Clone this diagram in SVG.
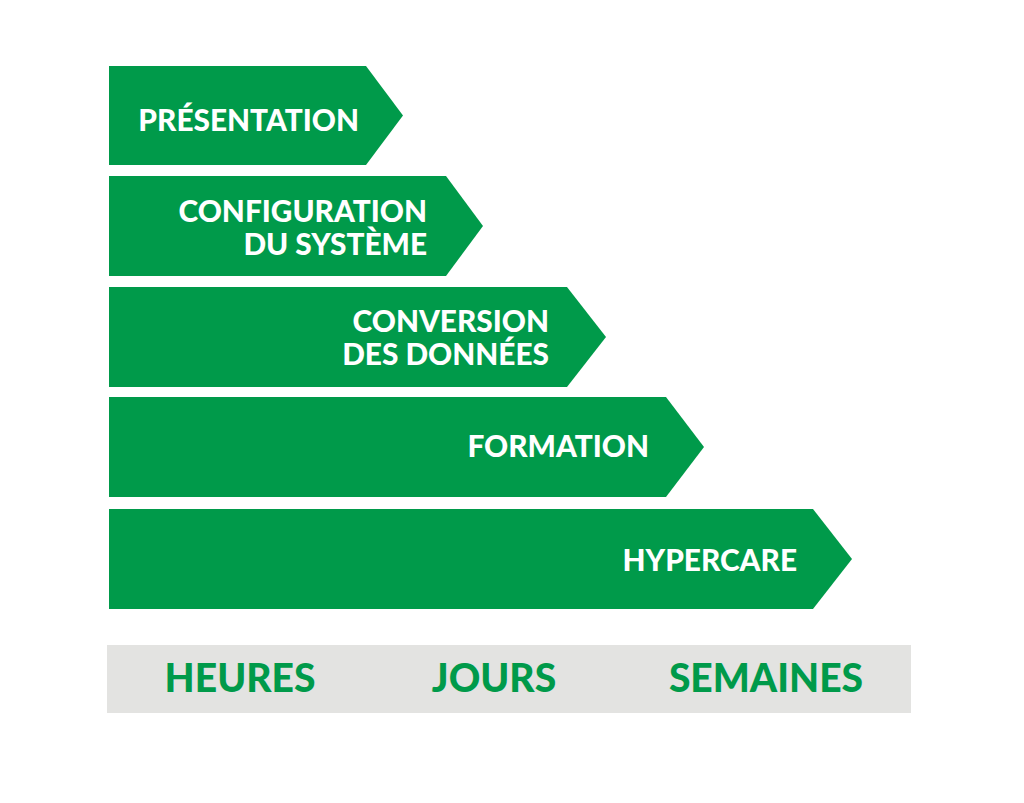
<svg xmlns="http://www.w3.org/2000/svg" width="1024" height="803" viewBox="0 0 1024 803">
<style>
.arrow{fill:#009a4a}
.lbl{font-family:Lato,"Liberation Sans",sans-serif;font-weight:900;font-size:29.8px;fill:#ffffff;text-anchor:end}
.scale{font-family:Lato,"Liberation Sans",sans-serif;font-weight:900;font-size:39px;fill:#009a4a;text-anchor:middle}
</style>
<rect width="1024" height="803" fill="#ffffff"/>
<g id="presentation">
<polygon class="arrow" points="109,66 366,66 403,115.5 366,165 109,165"/>
<text class="lbl" x="359" y="131">PRÉSENTATION</text>
</g>
<g id="configuration">
<polygon class="arrow" points="109,176 446,176 483,226 446,276 109,276"/>
<text class="lbl" x="427" y="222">CONFIGURATION</text>
<text class="lbl" x="427" y="255">DU SYSTÈME</text>
</g>
<g id="conversion">
<polygon class="arrow" points="109,287 567,287 606,337 567,387 109,387"/>
<text class="lbl" x="549" y="332">CONVERSION</text>
<text class="lbl" x="549" y="365">DES DONNÉES</text>
</g>
<g id="formation">
<polygon class="arrow" points="109,397 666,397 704,447 666,497 109,497"/>
<text class="lbl" x="649" y="457">FORMATION</text>
</g>
<g id="hypercare">
<polygon class="arrow" points="109,509 813,509 852,559 813,609 109,609"/>
<text class="lbl" x="797" y="571">HYPERCARE</text>
</g>
<g id="scale">
<rect x="107" y="645" width="804" height="68" fill="#e3e3e1"/>
<text class="scale" x="240" y="692">HEURES</text>
<text class="scale" x="494" y="692">JOURS</text>
<text class="scale" x="766" y="692">SEMAINES</text>
</g>
<g id="connectors"/>
</svg>
